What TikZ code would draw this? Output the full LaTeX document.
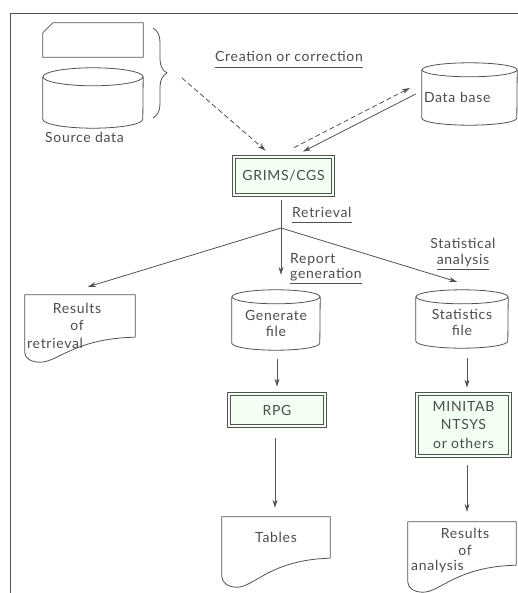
\documentclass[tikz,border=0pt]{standalone}
\usepackage{fontspec}
\setmainfont[LetterSpace=5]{Lato}
\usetikzlibrary{arrows.meta,decorations.pathreplacing}
\newcommand\drawcyl[3]{%
  \draw[ln] (#1.north) ellipse[x radius=#2pt, y radius=#3pt];
  \draw[ln] (#1.north west) -- ([yshift=#3pt]#1.south west)
    arc[start angle=180, end angle=360, x radius=#2pt, y radius=#3pt] -- (#1.north east);
}
\newcommand\drawdoc[3]{%
  \draw[ln] (#1.south east) -- (#1.north east) -- (#1.north west) -- ([shift={(0,{0.62*#3})}]#1.south west)
   .. controls ([shift={(0,{0.85*#3})}]#1.south west) and ([shift={({0.06*#2},#3)}]#1.south west) .. ([shift={({0.14*#2},#3)}]#1.south west)
   .. controls ([shift={({0.3*#2},#3)}]#1.south west) and ([shift={({0.45*#2},{0.05*#3})}]#1.south west) .. (#1.south east);
}
\begin{document}
\begin{tikzpicture}[x=1pt,y=-1pt,
  ln/.style={draw=black!68, line width=0.8pt},
  txt/.style={text=black!70, font=\fontsize{14}{16}\selectfont, inner sep=0pt},
  shp/.style={txt, align=center, inner sep=0pt},
  dbox/.style={ln, double=green!5, double distance=2.4pt, fill=green!5, txt, align=center, inner sep=0pt},
  arr/.style={ln, -{Stealth[length=8pt,width=5pt]}},
  darr/.style={arr, dash pattern=on 5pt off 3pt},
]
\useasboundingbox (0,0) rectangle (518,593);
% frame
\coordinate (f0) at (518,13);
\coordinate (f1) at (10,13);
\coordinate (f2) at (10,593);
\draw[ln] (f0) -- (f1) -- (f2);

% source data
\node[shp, minimum width=100pt, minimum height=34pt] (card) at (93,40) {};
\draw[ln] ([shift={(10,0)}]card.north west) -- (card.north east) -- (card.south east) -- (card.south west) -- ([shift={(0,10)}]card.north west) -- cycle;
\node[shp, minimum width=100pt, minimum height=51pt] (src) at (93,102.5) {};
\drawcyl{src}{50}{9}
\node[txt, anchor=base west] (srct) at (45,142.5) {Source data};
\coordinate (b1) at (153,28);
\coordinate (b2) at (153,118);
\draw[ln, decorate, decoration={brace, amplitude=14pt}] (b1) -- (b2);
\coordinate (bt) at (182,78);

% labels
\node[txt, anchor=base west] (cre) at (215,62) {Creation or correction};
\draw[ln] ([yshift=-5pt]cre.base west) -- ([yshift=-5pt]cre.base east);

% data base
\node[shp, minimum width=95pt, minimum height=55pt, text width=91pt, align=left, inner xsep=2pt] (db) at (469.5,97.5) {Data base};
\drawcyl{db}{47.5}{7}

% GRIMS
\node[dbox, minimum width=99pt, minimum height=38pt] (grims) at (283.5,176) {GRIMS/CGS};

\draw[darr] (bt) -- ([shift={(32,-6)}]grims.north west);
\draw[darr] ([shift={(10.5,-9)}]grims.north) -- ([shift={(-12,-9.5)}]db.west);
\draw[arr] ([shift={(-6,-3.5)}]db.west) -- ([shift={(19.5,-5)}]grims.north);

\node[txt, anchor=base west] (retl) at (292,218) {Retrieval};
\draw[ln] ([yshift=-4pt]retl.base west) -- ([yshift=-4pt]retl.base east);
\node[txt, anchor=base west] (rep1) at (290,263) {Report};
\node[txt, anchor=base west] (rep2) at (290,278) {generation};
\draw[ln] ([yshift=-5pt]rep2.base west) -- ([yshift=-5pt]rep2.base east);
\node[txt, anchor=base] (sta1) at (463,248) {Statistical};
\node[txt, anchor=base] (sta2) at (463,264) {analysis};
\draw[ln] ([yshift=-5pt]sta2.base west) -- ([yshift=-5pt]sta2.base east);

% second row
\node[shp, minimum width=110pt, minimum height=42pt] (ret) at (80,316) {};
\drawdoc{ret}{110}{25}
\node[txt] (ret1) at (77,308) {Results};
\node[txt] (ret2) at (77,325) {of};
\node[txt, anchor=west] (ret3) at (27,343) {retrieval};

\node[shp, minimum width=88pt, minimum height=53pt] (gen) at (276,323.5) {Generate\\file};
\drawcyl{gen}{44}{7}
\node[shp, minimum width=92pt, minimum height=51pt] (stat) at (462,322.5) {Statistics\\file};
\drawcyl{stat}{46}{7}

\coordinate (J) at (281,228);
\draw[ln] ([shift={(-2.5,5)}]grims.south) -- (J);
\draw[arr] (J) -- ([shift={(5,-22)}]gen.north);
\draw[arr] (J) -- ([shift={(8,-8)}]ret.north);
\draw[arr] (J) -- ([shift={(-5,-15)}]stat.north);

% third row
\node[dbox, minimum width=96pt, minimum height=32pt] (rpg) at (277,410) {RPG};
\node[dbox, minimum width=93pt, minimum height=62pt, font=\fontsize{14}{18.5}\selectfont] (mini) at (463.5,425) {MINITAB\\NTSYS\\or others};
\draw[arr] ([shift={(1,9)}]gen.south) -- ([shift={(0,-7)}]rpg.north);
\draw[arr] ([shift={(5,10)}]stat.south) -- ([shift={(3.5,-6)}]mini.north);

% bottom row
\node[shp, minimum width=108pt, minimum height=41pt] (tab) at (276,537.5) {Tables};
\drawdoc{tab}{108}{29}
\node[shp, minimum width=108pt, minimum height=43pt] (ana) at (462,543.5) {};
\drawdoc{ana}{108}{27}
\node[txt] (ana1) at (465,533) {Results};
\node[txt] (ana2) at (465,550) {of};
\node[txt, anchor=west] (ana3) at (411,567) {analysis};
\draw[arr] ([shift={(-2,12)}]rpg.south) -- ([shift={(-1,-9)}]tab.north);
\draw[arr] ([shift={(3.5,9)}]mini.south) -- ([shift={(5,-10)}]ana.north);
\end{tikzpicture}
\end{document}
